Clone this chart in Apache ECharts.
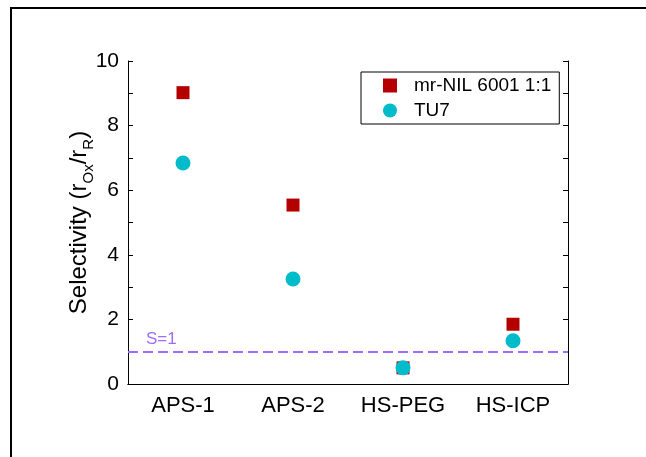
<!DOCTYPE html>
<html>
<head>
<meta charset="utf-8">
<script src="https://cdn.jsdelivr.net/npm/echarts@6/dist/echarts.min.js"></script>
<style>
  html, body { margin: 0; padding: 0; background: #fff; }
  #chart { width: 646px; height: 457px; }
</style>
</head>
<body>
<div id="chart"></div>
<script>
// Surface treatments tested
const categories = ['APS-1', 'APS-2', 'HS-PEG', 'HS-ICP'];
// Selectivity r_Ox / r_R for each resist
const mrNil = [9.02, 5.54, 0.50, 1.85];
const tu7 = [6.84, 3.25, 0.50, 1.34];
const seriesNames = ['mr-NIL 6001 1:1', 'TU7'];
const yTicks = [0, 2, 4, 6, 8, 10];
const thresholdValue = 1;

const FONT = 'Liberation Sans, Arial, sans-serif';

const chart = echarts.init(document.getElementById('chart'), null, { renderer: 'canvas' });

chart.setOption({
  backgroundColor: '#fff',
  animation: false,
  textStyle: { fontFamily: FONT },
  graphic: [{
    type: 'rect',
    shape: { x: 11, y: 8, width: 660, height: 470 },
    style: { fill: 'none', stroke: '#000', lineWidth: 2 },
    silent: true
  }],
  grid: { left: 128, right: 78, top: 61, bottom: 73 },
  legend: {
    left: 361, top: 72,
    orient: 'vertical',
    selectedMode: false,
    borderColor: '#000', borderWidth: 1, borderRadius: 0,
    padding: [4, 8, 4, 22],
    itemGap: 6,
    itemWidth: 14, itemHeight: 14,
    textStyle: { fontFamily: FONT, fontSize: 19, color: '#000', padding: [0, 0, 0, 12] },
    data: [
      { name: seriesNames[0], icon: 'rect' },
      { name: seriesNames[1], icon: 'circle' }
    ]
  },
  xAxis: [{
    type: 'category',
    data: categories,
    position: 'bottom',
    axisLine: { lineStyle: { color: '#000', width: 1 } },
    axisTick: { inside: true, alignWithLabel: true, length: 5, lineStyle: { color: '#000' } },
    axisLabel: { color: '#000', fontSize: 22, fontFamily: FONT, margin: 11 },
    splitLine: { show: false }
  }, {
    type: 'category',
    data: categories,
    position: 'top',
    axisLine: { lineStyle: { color: '#000', width: 1 } },
    axisTick: { inside: true, alignWithLabel: true, length: 5, lineStyle: { color: '#000' } },
    axisLabel: { show: false },
    splitLine: { show: false }
  }],
  yAxis: [{
    type: 'value',
    min: yTicks[0], max: yTicks[yTicks.length - 1], interval: 2,
    position: 'left',
    axisLine: { show: true, lineStyle: { color: '#000', width: 1 } },
    axisTick: { show: true, inside: true, length: 5, lineStyle: { color: '#000' } },
    minorTick: { show: true, splitNumber: 2, length: 5, lineStyle: { color: '#000' } },
    axisLabel: { color: '#000', fontSize: 21, fontFamily: FONT, margin: 9 },
    splitLine: { show: false },
    name: '{m|Selectivity (r}{s|Ox}{m|/r}{s|R}{m|)}',
    nameLocation: 'middle',
    nameGap: 35,
    nameMoveOverlap: false,
    nameTextStyle: {
      rich: {
        m: { fontSize: 24, fontFamily: FONT, color: '#000', lineHeight: 28 },
        s: { fontSize: 15, fontFamily: FONT, color: '#000', verticalAlign: 'bottom', lineHeight: 15, padding: [0, 0, -3, 0] }
      }
    }
  }, {
    type: 'value',
    min: yTicks[0], max: yTicks[yTicks.length - 1], interval: 2,
    position: 'right',
    axisLine: { show: true, lineStyle: { color: '#000', width: 1 } },
    axisTick: { show: true, inside: true, length: 5, lineStyle: { color: '#000' } },
    minorTick: { show: true, splitNumber: 2, length: 5, lineStyle: { color: '#000' } },
    axisLabel: { show: false },
    splitLine: { show: false }
  }],
  series: [{
    name: seriesNames[0],
    type: 'scatter',
    symbol: 'rect',
    symbolSize: 13,
    itemStyle: { color: '#B40000', opacity: 1 },
    data: mrNil,
    z: 2,
    markLine: {
      silent: true,
      symbol: 'none',
      lineStyle: { color: '#9E6CFF', type: [10, 5], width: 2 },
      label: {
        show: true,
        position: 'insideStartTop',
        formatter: 'S=1',
        color: '#9E6CFF',
        fontSize: 17,
        fontFamily: FONT,
        distance: [18, 4]
      },
      data: [{ yAxis: thresholdValue }]
    }
  }, {
    name: seriesNames[1],
    type: 'scatter',
    symbol: 'circle',
    symbolSize: 15,
    itemStyle: { color: '#00BCCA', opacity: 1 },
    data: tu7,
    z: 3
  }]
});
</script>
</body>
</html>
